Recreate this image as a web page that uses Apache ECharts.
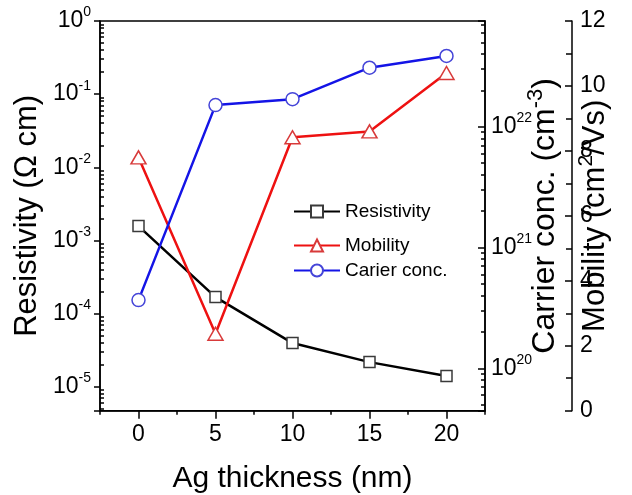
<!DOCTYPE html>
<html><head><meta charset="utf-8">
<script src="https://cdn.jsdelivr.net/npm/echarts@6/dist/echarts.min.js"></script>
<style>html,body{margin:0;padding:0;background:#fff}#c{width:632px;height:495px}</style>
</head><body><div id="c"></div>
<script>
// ---- data ----
const thickness = [0, 5, 10, 15, 20];                       // Ag thickness (nm)
const resistivity = [1.57e-3, 1.68e-4, 3.95e-5, 2.17e-5, 1.40e-5]; // Ω cm
const mobility = [7.8, 2.37, 8.42, 8.6, 10.4];              // cm2/Vs
const carrierConc = [3.67e20, 1.51e22, 1.69e22, 3.08e22, 3.85e22]; // cm-3
const xMajorTicks = [0, 5, 10, 15, 20];
const logMinorMultipliers = [2, 3, 4, 5, 6, 7, 8, 9];
const resistivityDecades = [-6, -5, -4, -3, -2, -1];
const carrierDecades = [19, 20, 21, 22];
const seriesNames = ['Resistivity', 'Mobility', 'Carier conc.'];

const FONT = 'Liberation Sans, Arial, sans-serif';
function minorTicks(decades) {
  const out = [];
  decades.forEach(d => logMinorMultipliers.forEach(m => out.push(m * Math.pow(10, d))));
  return out;
}
function powLabel(v) {
  const e = Math.log10(v);
  const r = Math.round(e);
  if (Math.abs(e - r) > 1e-6) return '';
  return '{b|10}{s|' + r + '}';
}
const labelRich = {
  b: { fontSize: 23, fontFamily: FONT, color: '#000' },
  s: { fontSize: 14, fontFamily: FONT, color: '#000', padding: [0, 0, 17, 0] }
};
const axisLineStyle = { color: '#000', width: 1.5 };

const chart = echarts.init(document.getElementById('c'), null, { renderer: 'canvas' });
const option = {
  animation: false,
  backgroundColor: '#fff',
  textStyle: { fontFamily: FONT },
  grid: {
    left: 100, right: 147, top: 21, bottom: 84.3, show: true, borderColor: '#000', borderWidth: 1.5,
    outerBoundsMode: 'none', containLabel: false
  },
  legend: [
    {
      data: [seriesNames[0]], left: 293, top: 202, padding: 0, itemWidth: 46, itemHeight: 15,
      textStyle: { fontSize: 19, fontFamily: FONT, color: '#000' }, selectedMode: false
    },
    {
      data: [seriesNames[1], seriesNames[2]], orient: 'vertical', left: 293, top: 236, padding: 0,
      itemWidth: 46, itemHeight: 15, itemGap: 6,
      textStyle: { fontSize: 19, fontFamily: FONT, color: '#000' }, selectedMode: false
    }
  ],
  xAxis: [
    {
      type: 'value', min: -2.5, max: 22.5, interval: 2.5, position: 'bottom',
      axisLine: { onZero: false, lineStyle: axisLineStyle },
      axisTick: { length: 4, lineStyle: axisLineStyle },
      axisLabel: { customValues: xMajorTicks, fontSize: 23, color: '#000', margin: 12, fontFamily: FONT },
      splitLine: { show: false },
      name: 'Ag thickness (nm)', nameLocation: 'middle', nameGap: 53, nameMoveOverlap: false,
      nameTextStyle: { fontSize: 30, color: '#000', fontFamily: FONT }
    },
    {
      type: 'value', min: -2.5, max: 22.5, interval: 2.5, position: 'bottom',
      axisLine: { show: false, onZero: false },
      axisTick: { customValues: xMajorTicks, length: 8, lineStyle: axisLineStyle },
      axisLabel: { show: false }, splitLine: { show: false }
    }
  ],
  yAxis: [
    {
      type: 'log', logBase: 10, min: 4.7e-6, max: 1, position: 'left',
      axisLine: { onZero: false, lineStyle: axisLineStyle },
      axisTick: { length: 6, lineStyle: axisLineStyle },
      axisLabel: { formatter: powLabel, rich: labelRich, margin: 9 },
      splitLine: { show: false },
      name: 'Resistivity (Ω cm)', nameLocation: 'middle', nameGap: 57, nameRotate: 90, nameMoveOverlap: false,
      nameTextStyle: { fontSize: 31, color: '#000', fontFamily: FONT }
    },
    {
      type: 'log', logBase: 10, min: 4.7e-6, max: 1, position: 'left',
      axisLine: { show: false, onZero: false },
      axisTick: { inside: true, length: 4, customValues: minorTicks(resistivityDecades), lineStyle: axisLineStyle },
      axisLabel: { show: false }, splitLine: { show: false }
    },
    {
      type: 'log', logBase: 10, min: 4.46e19, max: 7.5e22, position: 'right', offset: 0,
      axisLine: { onZero: false, lineStyle: axisLineStyle },
      axisTick: { inside: true, length: 7, lineStyle: axisLineStyle },
      axisLabel: { formatter: powLabel, rich: labelRich, margin: 6 },
      splitLine: { show: false },
      name: 'Carrier conc. (cm{s|-3})', nameLocation: 'middle', nameGap: 40, nameRotate: 90, nameMoveOverlap: false,
      nameTextStyle: {
        fontSize: 32, color: '#000', fontFamily: FONT,
        rich: { s: { fontSize: 22, fontFamily: FONT, color: '#000', padding: [0, 0, 18, 0] } }
      }
    },
    {
      type: 'log', logBase: 10, min: 4.46e19, max: 7.5e22, position: 'right', offset: 0,
      axisLine: { show: false, onZero: false },
      axisTick: { inside: true, length: 4, customValues: minorTicks(carrierDecades), lineStyle: axisLineStyle },
      axisLabel: { show: false }, splitLine: { show: false }
    },
    {
      type: 'value', min: 0, max: 12, interval: 2, position: 'right', offset: 87,
      axisLine: { show: true, onZero: false, lineStyle: axisLineStyle },
      axisTick: { show: true, inside: true, length: 7, lineStyle: axisLineStyle },
      minorTick: { show: true, splitNumber: 2, length: 6, lineStyle: axisLineStyle },
      axisLabel: { fontSize: 23, color: '#000', margin: 8, fontFamily: FONT },
      splitLine: { show: false },
      name: 'Mobility (cm{s|2}/Vs)', nameLocation: 'middle', nameGap: 4, nameRotate: 90, nameMoveOverlap: false,
      nameTextStyle: {
        fontSize: 31, color: '#000', fontFamily: FONT,
        rich: { s: { fontSize: 21, fontFamily: FONT, color: '#000', padding: [0, 0, 18, 0] } }
      }
    }
  ],
  series: [
    {
      name: seriesNames[0], type: 'line', xAxisIndex: 0, yAxisIndex: 0,
      data: thickness.map((x, i) => [x, resistivity[i]]),
      symbol: 'rect', symbolSize: 11, showAllSymbol: true,
      lineStyle: { color: '#000', width: 2.5 },
      itemStyle: { color: '#fff', borderColor: '#3a3a3a', borderWidth: 1.5 },
      emphasis: { disabled: true }, z: 3
    },
    {
      name: seriesNames[1], type: 'line', xAxisIndex: 0, yAxisIndex: 4,
      data: thickness.map((x, i) => [x, mobility[i]]),
      symbol: 'triangle', symbolSize: [15, 13],
      lineStyle: { color: '#ee1111', width: 2.5 },
      itemStyle: { color: '#fff', borderColor: '#d83a3a', borderWidth: 1.5 },
      emphasis: { disabled: true }, z: 4
    },
    {
      name: seriesNames[2], type: 'line', xAxisIndex: 0, yAxisIndex: 2,
      data: thickness.map((x, i) => [x, carrierConc[i]]),
      symbol: 'circle', symbolSize: 13,
      lineStyle: { color: '#1414e6', width: 2.5 },
      itemStyle: { color: '#fff', borderColor: '#4545d8', borderWidth: 1.5 },
      emphasis: { disabled: true }, z: 5
    }
  ]
};
chart.setOption(option);
</script>
</body></html>
